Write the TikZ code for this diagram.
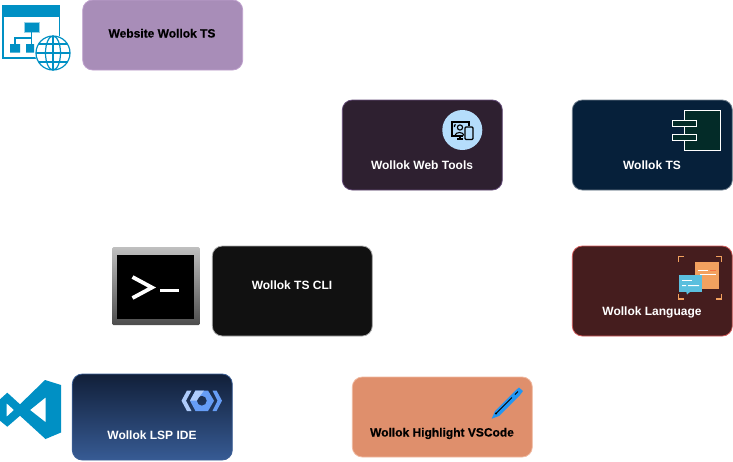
\documentclass[tikz,border=0pt]{standalone}
\usepackage{fontspec}
\setmainfont{Liberation Sans}
\newfontface\heavylabel[FakeBold=0.5]{Liberation Sans Bold}
\definecolor{vsblue}{HTML}{0090C4}
\definecolor{gearlight}{HTML}{AECBFA}
\definecolor{gearmid}{HTML}{669DF6}
\definecolor{orng}{HTML}{F2A15F}
\definecolor{bubble}{HTML}{5BBFDE}
\definecolor{siteedge}{HTML}{BEA0CD}
\definecolor{sitefill}{HTML}{A88DB8}
\definecolor{toolsedge}{HTML}{644B78}
\definecolor{toolsfill}{HTML}{2E2030}
\definecolor{tsedge}{HTML}{6E7D8C}
\definecolor{tsfill}{HTML}{06203A}
\definecolor{langedge}{HTML}{D25A5A}
\definecolor{langfill}{HTML}{451D1E}
\definecolor{cliedge}{HTML}{AAAAAA}
\definecolor{clifill}{HTML}{111111}
\definecolor{lspedge}{HTML}{3C5F96}
\definecolor{lsptop}{HTML}{111F39}
\definecolor{lspbottom}{HTML}{375B94}
\definecolor{hledge}{HTML}{F0B9A0}
\definecolor{hlfill}{HTML}{DF8F6C}
\definecolor{iconsky}{HTML}{B5DDFB}
\definecolor{compfill}{HTML}{032B28}
\definecolor{penblue}{HTML}{2196F3}
\tikzset{
  x=1pt,y=-1pt,
  card/.style={draw=#1,line width=0.8pt,rounded corners=10pt,inner sep=0pt},
  whitelabel/.style={anchor=base,inner sep=0pt,text=white,font=\bfseries\fontsize{12}{14}\selectfont},
  blacklabel/.style={anchor=base,inner sep=0pt,text=black,font=\heavylabel\fontsize{12}{14}\selectfont},
  cornerline/.style={draw=orng,line width=1.1pt},
}
\begin{document}
\begin{tikzpicture}
\useasboundingbox (0,0) rectangle (733,461);

% cards
\node[card=siteedge,fill=sitefill,minimum width=160pt,minimum height=70pt] (website) at (162.7,35) {};
\node[card=toolsedge,fill=toolsfill,minimum width=160pt,minimum height=90pt] (webtools) at (422.3,145) {};
\node[card=tsedge,fill=tsfill,minimum width=160pt,minimum height=90pt] (ts) at (652.3,145) {};
\node[card=langedge,fill=langfill,minimum width=160pt,minimum height=90pt] (language) at (652.3,291) {};
\node[card=cliedge,fill=clifill,minimum width=160pt,minimum height=90pt] (cli) at (292.3,291) {};
\node[card=lspedge,top color=lsptop,bottom color=lspbottom,minimum width=160pt,minimum height=86pt] (lsp) at (152.3,417) {};
\node[card=hledge,fill=hlfill,minimum width=180pt,minimum height=80pt] (highlight) at (442.3,417) {};

% labels
\node[blacklabel] (websitetext) at (162,37.5) {Website Wollok TS};
\node[whitelabel] (webtoolstext) at (422,169.5) {Wollok Web Tools};
\node[whitelabel] (tstext) at (652,169.5) {Wollok TS};
\node[whitelabel] (languagetext) at (652,315.5) {Wollok Language};
\node[whitelabel] (clitext) at (292,289.5) {Wollok TS CLI};
\node[whitelabel] (lsptext) at (152,439.5) {Wollok LSP IDE};
\node[blacklabel] (highlighttext) at (442,436.5) {Wollok Highlight VSCode};

% website icon
\draw[vsblue,line width=1.2pt,fill=white] (3,6) rectangle (59.5,58);
\fill[vsblue] (2.5,5) rectangle (60,17);
\draw[vsblue!40!white,line width=0.8pt,fill=vsblue] (24.5,22) rectangle (39,32);
\draw[vsblue,line width=1.2pt] (31.5,32) -- (31.5,44) (15,44) -- (15,38) -- (31,38);
\fill[vsblue] (10,44) rectangle (20,52.5) (26,44) rectangle (34,52.5);
\fill[white] (53,53) circle (18);
\begin{scope}[vsblue,line width=1.2pt]
\draw (53,53) circle (17);
\draw (53,53) ellipse (7.5 and 17);
\draw (53,36) -- (53,70) (36,53) -- (70,53);
\draw (39,44) -- (67,44) (39,62) -- (67,62);
\end{scope}

% web tools icon
\fill[iconsky] (462.3,130) circle (20);
\begin{scope}[black,line width=1.1pt]
\draw (469,126) -- (469,122) -- (452,122) -- (452,136) -- (463,136);
\draw (457,139) -- (463,139) (460,136) -- (460,139);
\draw[fill=iconsky,rounded corners=1pt] (465,127) rectangle (473,139.5);
\draw (460,127.5) circle (2.6);
\draw (455,135.5) .. controls (455.5,131.5) and (463.5,131.5) .. (464,135.5);
\draw (454.5,127) .. controls (454,126) and (454.5,125) .. (455.5,124.5);
\end{scope}

% component icon
\begin{scope}[draw=white,line width=1pt,fill=compfill]
\filldraw (684.3,110) rectangle (720.7,150.7);
\filldraw (672.3,120) rectangle (696.7,126.7);
\filldraw (672.3,134.3) rectangle (696.7,140.7);
\end{scope}

% language icon
\draw[cornerline] (678.5,262) -- (678.5,256.5) -- (684,256.5);
\draw[cornerline] (716,256.5) -- (721.5,256.5) -- (721.5,262);
\draw[cornerline] (678.5,293.5) -- (678.5,299) -- (684,299);
\draw[cornerline] (716,299) -- (721.5,299) -- (721.5,293.5);
\fill[orng] (695,261.7) rectangle (719,289);
\fill[white] (698,270) rectangle (708,271.2);
\fill[orng!70!red] (710,270) rectangle (716,271.2);
\fill[white] (700,274) rectangle (716,275.2);
\fill[bubble] (679.3,275) rectangle (702.3,291.7);
\fill[bubble] (686,291) -- (691,291) -- (687,294.5) -- cycle;
\fill[white] (682,280) rectangle (692,281.2);
\fill[white] (682,285) rectangle (686,286.2) (688,285) rectangle (699,286.2);

% terminal icon
\shade[top color=black!25,bottom color=black!70,rounded corners=1.5pt] (112,247) rectangle (200,325);
\fill[black] (117,255) rectangle (194,319);
\draw[white,line width=3.8pt] (132.5,277) -- (152,287.5) -- (132.5,298);
\draw[white,line width=3pt] (160,290.5) -- (179,290.5);

% vs code icon
\fill[vsblue,even odd rule] (45,380) -- (61,385) -- (61,432.5) -- (45.5,439) -- (20,415.7) -- (7.3,426.7) -- (0,420.7) -- (0,399.3) -- (7.3,392.7) -- (20,404.3) -- cycle
 (45.7,397.3) -- (45.7,422.3) -- (30,410) -- cycle
 (6.7,403.3) -- (6.7,416.7) -- (14,410) -- cycle;

% gear icon
\fill[gearmid,even odd rule] (195.5,390.5) -- (208,390.5) -- (214,400.7) -- (208,411) -- (195.5,411) -- (190,400.7) -- cycle (201.8,400.7) circle (5);
\fill[gearlight] (195.5,390.5) -- (204,390.5) -- (199.5,396.5) -- (196.8,400.7) -- (190,400.7) -- cycle;
\fill[gearlight] (187,390.5) -- (191.5,390.5) -- (186,400.7) -- (191.5,411) -- (187,411) -- (181.5,400.7) -- cycle;
\fill[gearmid] (212.5,390.5) -- (216.5,390.5) -- (222,400.7) -- (216.5,411) -- (212.5,411) -- (217.5,400.7) -- cycle;

% pen icon
\fill[penblue] (491.7,418.7) -- (495,411) -- (516,390) -- (519,387.5) -- (523,391) -- (520,395) -- (499,416) -- cycle;
\draw[black,line width=0.9pt] (496,413.5) -- (512,397.5);
\draw[black,line width=0.9pt] (515,394.5) -- (518,391.5);
\fill[black] (496,413.5) circle (1.2);
\end{tikzpicture}
\end{document}
